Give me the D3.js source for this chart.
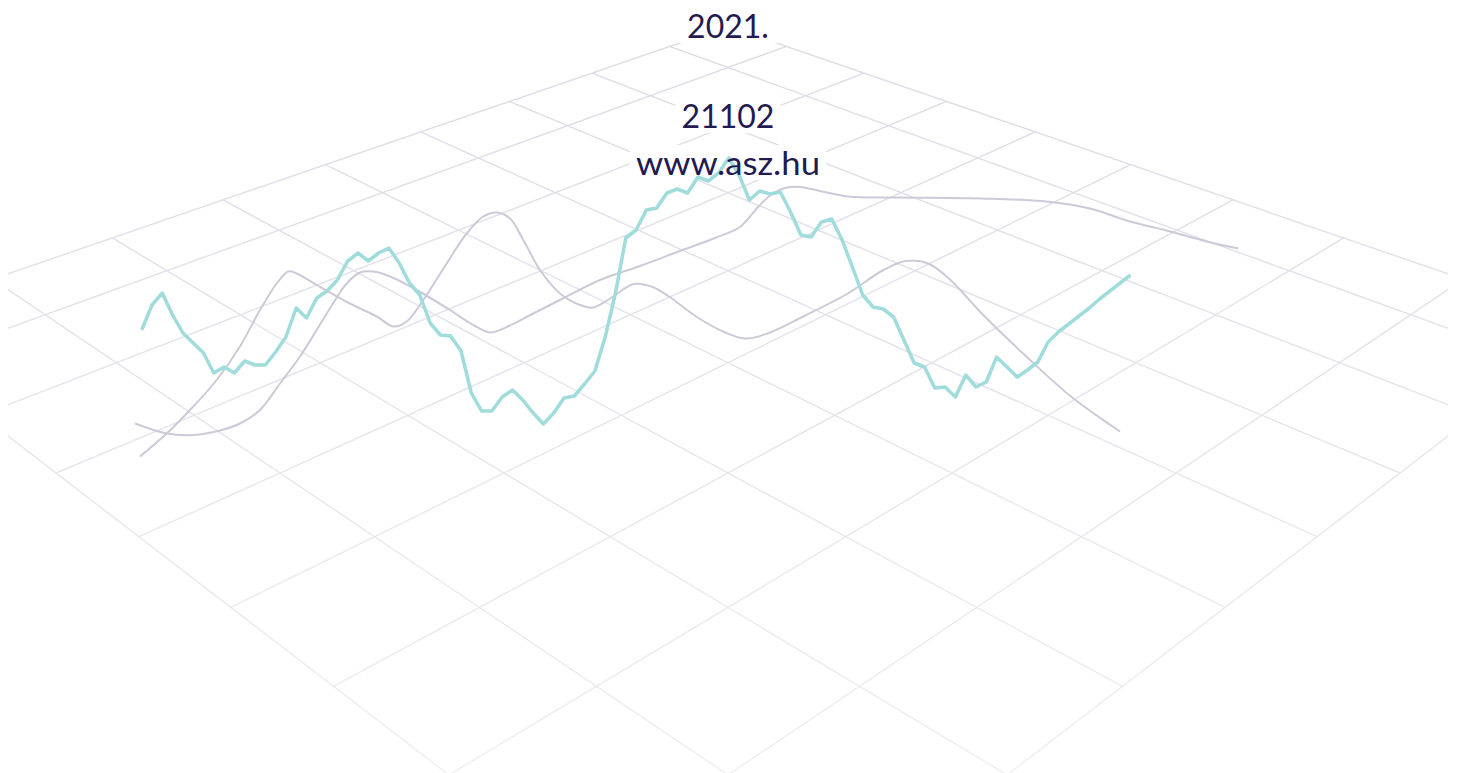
<!DOCTYPE html>
<html>
<head>
<meta charset="utf-8">
<script src="https://cdn.jsdelivr.net/npm/d3@7"></script>
<style>
  body { margin: 0; background: #fff; }
  svg { display: block; }
</style>
</head>
<body>
<div id="chart"></div>
<script>
// header texts
const titleLines = ["2021.", "21102", "www.asz.hu"];

// ground grid steps (last cell is cut short)
const gridSteps = [0, 1, 2, 3, 4, 5, 6, 7, 8, 8.8];

// teal series, one value per step
const tealValues = [
  34.0, 39.0, 41.4, 37.0, 33.4, 31.4, 29.4, 25.4, 26.6, 25.4,
  27.8, 27.0, 27.0, 29.6, 32.6, 38.4, 36.4, 40.4, 41.8, 44.0,
  47.8, 49.4, 47.8, 49.4, 50.4, 47.4, 43.4, 41.0, 35.4, 33.0,
  32.8, 29.8, 21.4, 17.8, 17.8, 20.6, 22.0, 20.0, 17.4, 15.2,
  17.4, 20.4, 20.8, 23.2, 25.8, 32.6, 41.4, 52.4, 54.0, 58.0,
  58.4, 61.4, 62.2, 61.4, 64.6, 63.8, 65.4, 68.4, 65.0, 60.0,
  61.8, 61.2, 61.6, 57.6, 53.0, 52.6, 55.6, 56.2, 52.0, 46.6,
  41.0, 38.6, 38.2, 36.6, 32.0, 27.4, 26.6, 22.4, 22.6, 20.6,
  25.0, 22.6, 23.6, 28.6, 26.6, 24.6, 26.0, 27.6, 31.6, 33.6,
  35.2, 36.8, 38.4, 40.2, 41.8, 43.4, 45.0
];

// smooth grey series, [step, value]
const greyA = [
  [-0.65, 15.3], [2.43, 13.3], [5.01, 13.0], [7.60, 13.9], [9.54, 15.3],
  [11.48, 18.0], [13.43, 23.3], [15.37, 28.7], [16.99, 34.0], [18.60, 39.4],
  [19.90, 43.3], [21.19, 45.5], [22.49, 45.7], [24.11, 44.7], [26.70, 42.0],
  [29.93, 38.0], [32.19, 35.0], [33.82, 33.5], [34.79, 34.0], [38.02, 37.3],
  [41.26, 40.7], [44.50, 44.0], [48.38, 46.8], [52.26, 49.8], [55.66, 52.4],
  [58.08, 54.6], [59.89, 58.7], [61.19, 61.2], [62.46, 62.4], [63.91, 62.6],
  [65.85, 61.8], [68.57, 60.7], [73.62, 60.5], [81.58, 60.3], [87.86, 59.7],
  [92.07, 58.3], [95.95, 55.7], [99.51, 53.9], [103.4, 51.7], [106.47, 50.3]
];

const greyB = [
  [-0.17, 8.7], [2.43, 13.3], [5.01, 18.7], [7.28, 24.0], [9.54, 30.7],
  [11.48, 38.0], [13.11, 43.3], [14.23, 45.7], [15.05, 45.3], [16.99, 43.0],
  [20.22, 39.3], [22.82, 36.7], [24.43, 34.7], [25.73, 35.7], [27.34, 40.0],
  [29.61, 47.3], [31.55, 53.3], [33.17, 56.7], [34.47, 57.5], [35.76, 56.3],
  [37.05, 52.0], [38.67, 46.0], [40.61, 41.3], [42.55, 39.0], [43.84, 38.5],
  [45.56, 40.4], [47.76, 43.2], [49.49, 42.7], [51.19, 40.7], [53.82, 36.7],
  [56.43, 33.7], [58.59, 32.3], [60.76, 33.3], [64.22, 36.7], [68.55, 41.3],
  [72.02, 46.0], [74.19, 47.8], [76.36, 47.3], [78.52, 44.0], [81.56, 37.3],
  [85.89, 28.7], [90.22, 20.7], [94.98, 13.7]
];

const width = 1458, height = 773;

const svg = d3.select("#chart").append("svg")
  .attr("width", width)
  .attr("height", height);

const defs = svg.append("defs");

defs.append("clipPath")
  .attr("id", "grid-clip")
  .append("rect")
    .attr("x", 8).attr("y", 0)
    .attr("width", 1440).attr("height", height);

let fade = defs.append("linearGradient")
  .attr("id", "grid-fade")
  .attr("gradientUnits", "userSpaceOnUse")
  .attr("x1", 0).attr("y1", 20)
  .attr("x2", 0).attr("y2", height);
fade.append("stop").attr("offset", 0).attr("stop-color", "#dcd9e6");
fade.append("stop").attr("offset", 1).attr("stop-color", "#eeeef1");

// perspective of the ground plane
const cx = 728, horizon = -753, depthK = 24814, depth0 = 14.24, focal = 2267;

function project(u, v) {
  const d = depth0 + u + v;
  return [cx + focal * (u - v) / d, horizon + depthK / d];
}

const last = gridSteps[gridSteps.length - 1];
let gridSegs = [];
gridSteps.forEach(s => {
  gridSegs.push([project(s, 0), project(s, last)]);
  gridSegs.push([project(0, s), project(last, s)]);
});

svg.append("g")
  .attr("clip-path", "url(#grid-clip)")
  .selectAll("line")
  .data(gridSegs)
  .enter().append("line")
    .attr("x1", d => d[0][0])
    .attr("y1", d => d[0][1])
    .attr("x2", d => d[1][0])
    .attr("y2", d => d[1][1])
    .attr("stroke", "url(#grid-fade)")
    .attr("stroke-width", 1.4);

// text blocks (white boxes hide the grid behind them)
const textLayer = svg.append("g");
const textBoxes = svg.append("g");
const baselines = [38, 128, 175];
const textWidths = [null, null, 184];

titleLines.forEach((t, i) => {
  let txt = textLayer.append("text")
    .attr("x", cx)
    .attr("y", baselines[i])
    .attr("text-anchor", "middle")
    .attr("font-family", "Lato, 'Open Sans', sans-serif")
    .attr("font-size", 32)
    .attr("fill", "#221a50")
    .text(t);
  if (textWidths[i]) {
    txt.attr("textLength", textWidths[i])
      .attr("lengthAdjust", "spacingAndGlyphs");
  }
});

textLayer.selectAll("text").each(function(d, i) {
  const b = this.getBBox();
  const pad = i === 0 ? 16 : 6;
  textBoxes.append("rect")
    .attr("x", b.x - pad)
    .attr("y", b.y + 2)
    .attr("width", b.width + pad * 2)
    .attr("height", b.height - 4)
    .attr("fill", "#fff");
});

const xScale = d3.scaleLinear()
  .domain([0, tealValues.length - 1])
  .range([141.7, 1130.5]);

const yScale = d3.scaleLinear()
  .domain([0, 100])
  .range([500, 0]);

const greyLine = d3.line()
  .x(d => xScale(d[0]))
  .y(d => yScale(d[1]))
  .curve(d3.curveCatmullRom.alpha(0.5));

const lines = svg.append("g");

[greyA, greyB].forEach(s => {
  lines.append("path")
    .datum(s)
    .attr("d", greyLine)
    .attr("fill", "none")
    .attr("stroke", "#cdc9d8")
    .attr("stroke-width", 2);
});

lines.append("path")
  .datum(tealValues)
  .attr("d", d3.line()
    .x((d, i) => xScale(i))
    .y(d => yScale(d)))
  .attr("fill", "none")
  .attr("stroke", "#a0dcdc")
  .attr("stroke-width", 3.5)
  .attr("stroke-linejoin", "round");

textLayer.raise();
</script>
</body>
</html>
